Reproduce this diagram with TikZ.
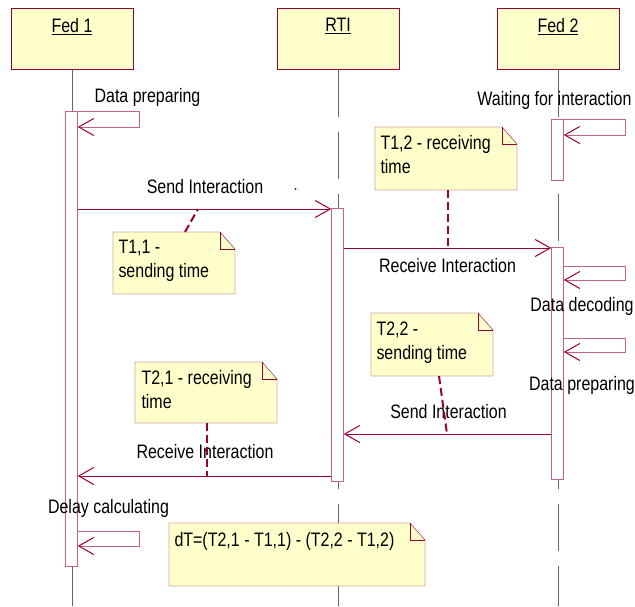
\documentclass[tikz,border=0pt]{standalone}
\usepackage{fontspec}
\setmainfont{Liberation Sans}[FakeStretch=0.82]
\usetikzlibrary{arrows.meta,positioning,backgrounds}
\definecolor{umlfill}{RGB}{255,255,204}
\definecolor{umlred}{RGB}{153,0,51}
\definecolor{umlpink}{RGB}{200,96,136}
\definecolor{lifegray}{RGB}{100,100,100}
\tikzset{
    object/.style = {
        draw = umlred,
        fill = umlfill,
        minimum width=122pt,
        minimum height=61pt,
        },
    object name/.style = {
        inner sep=0pt,
        },
    lifeline/.style = {
        draw=lifegray,
        dash pattern=on 47pt off 15pt,
        },
    activation/.style = {
        draw = umlpink,
        fill = white,
        minimum width=11.5pt,
        inner sep=0pt,
        },
    message/.style = {
        draw=umlred,
        -{Straight Barb[length=15pt,width=17pt]},
        },
    self message/.style = {
        draw=umlpink,
        -{Straight Barb[length=15pt,width=17pt,color=umlred]},
        },
    msg label/.style = {
        inner sep=0pt,
        },
    note/.style = {
        anchor=north west,
        inner sep=0pt,
        outer sep=0pt,
        },
    note line/.style = {
        draw=umlred,
        fill=umlfill,
        },
    note text/.style = {
        align=left,
        inner sep=0pt,
        },
    note link/.style = {
        draw=umlred,
        line width=2pt,
        dash pattern=on 8pt off 4pt,
        },
}

\begin{document}
\begin{tikzpicture}[x=1pt, y=-1pt, line width=1pt, font=\fontsize{19.5}{24}\selectfont]
    \useasboundingbox (0,0) rectangle (635,606);

    % objects
    \node[object] (fed1) at (72,38.5) {};
    \node[object] (rti) at (338,38.5) {};
    \node[object] (fed2) at (558,38.5) {};
    \node[object name, below=10pt of fed1.north] (fed1 name) {\underline{Fed 1}};
    \node[object name, below=10pt of rti.north] (rti name) {\underline{RTI}};
    \node[object name, below=10pt of fed2.north] (fed2 name) {\underline{Fed 2}};

    \coordinate (fed1 end) at (72,606);
    \coordinate (rti end) at (338,606);
    \coordinate (fed2 end) at (558,606);

    % activations
    \node[activation, minimum height=455pt] (fed1 bar) at (71.5,338.5) {};
    \node[activation, minimum height=273pt] (rti bar) at (337.5,344.5) {};
    \node[activation, minimum height=61pt] (fed2 wait) at (557.5,149.5) {};
    \node[activation, minimum height=232pt] (fed2 bar) at (557.5,363) {};

    % self messages
    \coordinate (prep1 top) at (139,111);
    \coordinate (prep1 bot) at (139,127);
    \coordinate (wait top) at (625,119);
    \coordinate (wait bot) at (625,135);
    \coordinate (dec top) at (625,266);
    \coordinate (dec bot) at (625,280);
    \coordinate (prep2 top) at (625,338);
    \coordinate (prep2 bot) at (625,352);
    \coordinate (delay top) at (139,531);
    \coordinate (delay bot) at (139,546);

    \draw[self message] (fed1 bar.east |- prep1 top) -- (prep1 top) -- (prep1 bot) -- (fed1 bar.east |- prep1 bot);
    \draw[self message] (fed2 wait.east |- wait top) -- (wait top) -- (wait bot) -- (fed2 wait.east |- wait bot);
    \draw[self message] (fed2 bar.east |- dec top) -- (dec top) -- (dec bot) -- (fed2 bar.east |- dec bot);
    \draw[self message] (fed2 bar.east |- prep2 top) -- (prep2 top) -- (prep2 bot) -- (fed2 bar.east |- prep2 bot);
    \draw[self message] (fed1 bar.east |- delay top) -- (delay top) -- (delay bot) -- (fed1 bar.east |- delay bot);

    \node[msg label] (prep1) at (147.5,97) {Data preparing};
    \node[msg label] (wait) at (554.5,100) {Waiting for interaction};
    \node[msg label] (dec) at (582,306) {Data decoding};
    \node[msg label] (prep2) at (582,385) {Data preparing};
    \node[msg label] (delay) at (108.5,508) {Delay calculating};

    % messages
    \coordinate (m1) at (0,209);
    \coordinate (m2) at (0,248);
    \coordinate (m3) at (0,434);
    \coordinate (m4) at (0,476);

    \draw[message] (fed1 bar.east |- m1) -- (rti bar.west |- m1);
    \draw[message] (rti bar.east |- m2) -- (fed2 bar.west |- m2);
    \draw[message] (fed2 bar.west |- m3) -- (rti bar.east |- m3);
    \draw[message] (rti bar.west |- m4) -- (fed1 bar.east |- m4);

    \node[msg label] (send1) at (205,186.5) {Send Interaction};
    \node[msg label] (recv1) at (447.5,266) {Receive Interaction};
    \node[msg label] (send2) at (448.5,412) {Send Interaction};
    \node[msg label] (recv2) at (205,452) {Receive Interaction};
    \fill[umlred] (295.5,189) circle (1.2pt);

    % notes
    \node[note, minimum width=122pt, minimum height=62pt] (t11) at (113,232) {};
    \node[note, minimum width=142pt, minimum height=63pt] (t12) at (375,127) {};
    \node[note, minimum width=122pt, minimum height=63pt] (t22) at (371,313) {};
    \node[note, minimum width=142pt, minimum height=61pt] (t21) at (135,362) {};
    \node[note, minimum width=256pt, minimum height=63pt] (dt) at (169,523) {};

    \node[note text, below right=8pt and 5pt of t11.north west] (t11 text) {T1,1 -\\sending time};
    \node[note text, below right=8pt and 5pt of t12.north west] (t12 text) {T1,2 - receiving\\time};
    \node[note text, below right=8pt and 5pt of t22.north west] (t22 text) {T2,2 -\\sending time};
    \node[note text, below right=8pt and 6pt of t21.north west] (t21 text) {T2,1 - receiving\\time};
    \node[note text, below right=9pt and 5pt of dt.north west] (dt text) {dT=(T2,1 - T1,1) - (T2,2 - T1,2)};

    \coordinate (link t11) at (198,209);
    \coordinate (link t12) at (448,248);
    \coordinate (link t22) at (447,434);
    \coordinate (link t21) at (207,476);
    \draw[note link] ([xshift=72pt]t11.north west) -- (link t11);
    \draw[note link] ([xshift=73pt]t12.south west) -- (link t12);
    \draw[note link] ([xshift=68pt]t22.south west) -- (link t22);
    \draw[note link] ([xshift=72pt]t21.south west) -- (link t21);

    \begin{scope}[on background layer]
        \draw[lifeline] (fed1) -- (fed1 end);
        \draw[lifeline] (rti) -- (rti end);
        \draw[lifeline] (fed2) -- (fed2 end);
        \foreach \n in {t11,t12,t22,t21,dt}{
            \filldraw[note line] (\n.north west) -- ([xshift=-15pt]\n.north east)
                -- ([yshift=-17pt]\n.north east) -- (\n.south east) -- (\n.south west) -- cycle;
            \draw[note line, fill=none] ([xshift=-15pt]\n.north east) |- ([yshift=-17pt]\n.north east);
        }
    \end{scope}
\end{tikzpicture}
\end{document}
